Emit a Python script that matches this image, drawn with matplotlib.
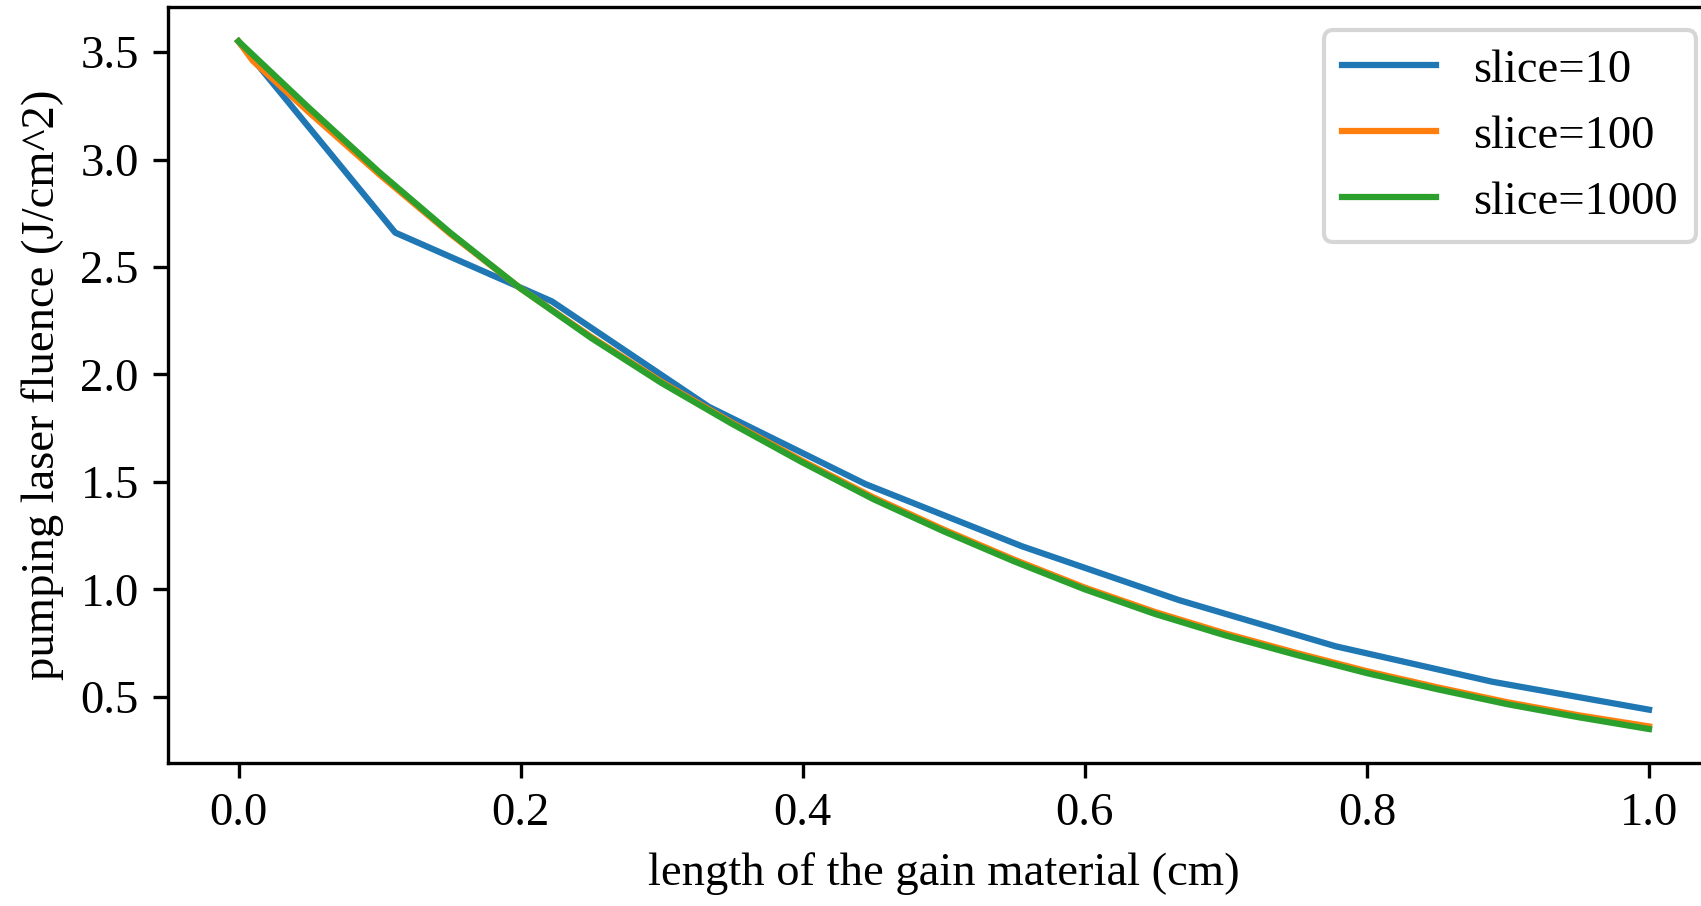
#!/usr/bin/python3

import sys
import matplotlib
matplotlib.use('Agg')
import matplotlib.pyplot as plt

# slice=10 : one point per slice boundary
x_10 = [0.0, 0.1111, 0.2222, 0.3333, 0.4444, 0.5556, 0.6667, 0.7778, 0.8889, 1.0]
y_10 = [3.55, 2.66, 2.34, 1.85, 1.49, 1.20, 0.95, 0.735, 0.57, 0.44]

# slice=100
x_100 = [0.0, 0.0101, 0.05, 0.10, 0.15, 0.20, 0.25, 0.30, 0.35, 0.40, 0.45,
         0.50, 0.55, 0.60, 0.65, 0.70, 0.75, 0.80, 0.85, 0.90, 0.95, 1.0]
y_100 = [3.55, 3.46, 3.22, 2.93, 2.655, 2.40, 2.175, 1.965, 1.775, 1.597, 1.428,
         1.278, 1.138, 1.008, 0.894, 0.794, 0.704, 0.619, 0.544, 0.474, 0.414, 0.362]

# slice=1000
x_1000 = [0.0, 0.05, 0.10, 0.15, 0.20, 0.25, 0.30, 0.35, 0.40, 0.45,
          0.50, 0.55, 0.60, 0.65, 0.70, 0.75, 0.80, 0.85, 0.90, 0.95, 1.0]
y_1000 = [3.55, 3.24, 2.94, 2.66, 2.40, 2.17, 1.96, 1.77, 1.59, 1.42,
          1.27, 1.13, 1.00, 0.885, 0.785, 0.695, 0.61, 0.535, 0.465, 0.405, 0.35]

labels = ['slice=10', 'slice=100', 'slice=1000']


def main():
    plt.rcParams['font.family'] = ['Liberation Serif', 'DejaVu Serif']
    plt.rcParams['font.size'] = 11.2
    dpi = 300
    fig = plt.figure(figsize=(1702 / dpi, 906 / dpi), dpi=dpi)
    # axes runs past the right edge of the picture, like the cropped original
    ax = fig.add_axes([0.0987, 0.1574, 0.9116, 0.8349])

    ax.plot(x_10, y_10, label=labels[0])
    ax.plot(x_100, y_100, label=labels[1])
    ax.plot(x_1000, y_1000, label=labels[2])

    ax.set_xlabel('length of the gain material (cm)')
    ax.set_ylabel('pumping laser fluence (J/cm^2)')
    ax.legend(loc='upper right')

    fig.savefig('out.png', dpi=dpi)


if __name__ == '__main__':
    main()
    sys.exit(0)
